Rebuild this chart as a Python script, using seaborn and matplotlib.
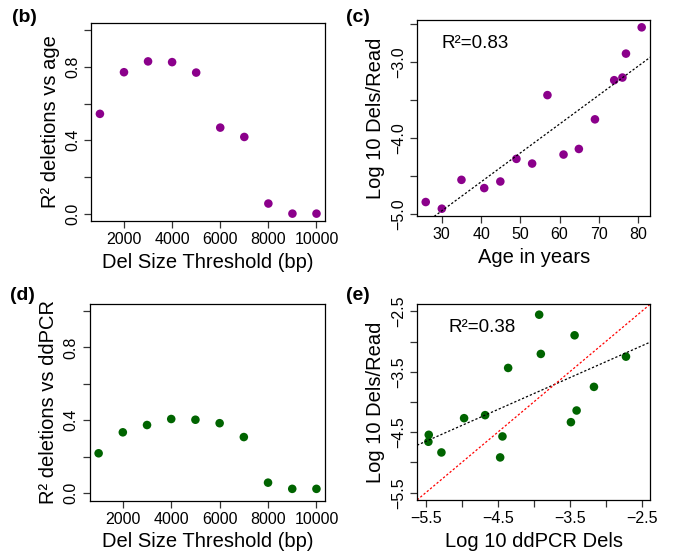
import numpy as np
import pandas as pd
import seaborn as sns
import matplotlib
matplotlib.use('Agg')
import matplotlib.pyplot as plt

# R^2 vs deletion size threshold
thresholds = [1000, 2000, 3000, 4000, 5000, 6000, 7000, 8000, 9000, 10000]
r2_age = [0.544, 0.771, 0.830, 0.826, 0.769, 0.469, 0.418, 0.055, 0.0, 0.0]
r2_ddpcr = [0.219, 0.334, 0.374, 0.407, 0.403, 0.384, 0.308, 0.058, 0.024, 0.024]

# deletions per read vs age
age = [25.9, 30.0, 35.0, 40.8, 44.9, 49.0, 53.0, 56.9, 61.0, 64.9, 69.0, 73.9, 76.0, 76.9, 80.9]
dels_age = [-4.846, -4.934, -4.553, -4.662, -4.575, -4.276, -4.338, -3.434, -4.219,
            -4.145, -3.754, -3.237, -3.202, -2.886, -2.539]

# deletions per read vs ddPCR
ddpcr = [-5.458, -5.463, -5.282, -4.967, -4.675, -4.434, -4.466, -4.355, -3.924,
         -3.901, -3.483, -3.432, -3.404, -3.163, -2.718]
dels_ddpcr = [-4.542, -4.657, -4.834, -4.267, -4.217, -4.569, -4.916, -3.436, -2.555,
              -3.204, -4.333, -2.896, -4.140, -3.749, -3.249]

r2_ticks = [0.0, 0.2, 0.4, 0.6, 0.8, 1.0]
r2_ticklabels = ['0.0', '', '0.4', '', '0.8', '']
thr_ticks = [2000, 4000, 6000, 8000, 10000]
age_ticks = [30, 40, 50, 60, 70, 80]
c_yticks = [-5.0, -4.5, -4.0, -3.5, -3.0, -2.5]
c_yticklabels = ['\u22125.0', '', '\u22124.0', '', '\u22123.0', '']
e_ticks = [-5.5, -5.0, -4.5, -4.0, -3.5, -3.0, -2.5]
e_ticklabels = ['\u22125.5', '', '\u22124.5', '', '\u22123.5', '', '\u22122.5']

purple = '#8b008b'
green = '#006400'

sns.set_style('ticks')
plt.rcParams['font.family'] = ['Liberation Sans', 'DejaVu Sans']
plt.rcParams['axes.unicode_minus'] = True
plt.rcParams['text.color'] = 'black'
plt.rcParams['axes.labelcolor'] = 'black'
plt.rcParams['xtick.labelcolor'] = 'black'
plt.rcParams['ytick.labelcolor'] = 'black'

fig = plt.figure(figsize=(6.76, 5.58), dpi=100)
ax_b = fig.add_axes([0.135, 0.604, 0.346, 0.355])
ax_c = fig.add_axes([0.617, 0.613, 0.345, 0.351])
ax_d = fig.add_axes([0.133, 0.103, 0.348, 0.353])
ax_e = fig.add_axes([0.617, 0.104, 0.345, 0.351])

tick_fs = 11.5
label_fs = 14.5


def style(ax):
    for s in ax.spines.values():
        s.set_color('black')
        s.set_linewidth(0.9)
    ax.tick_params(length=5, width=0.9, color='#333333', labelcolor='black',
                   labelsize=tick_fs, pad=3)
    plt.setp(ax.get_yticklabels(), rotation=90, va='center', ha='right')


def pad(lo, hi):
    d = (hi - lo) * 0.04
    return lo - d, hi + d


# (b)
df_b = pd.DataFrame({'thr': thresholds, 'r2': r2_age})
sns.scatterplot(data=df_b, x='thr', y='r2', ax=ax_b, color=purple, s=38, edgecolor='none')
ax_b.set_xlim(pad(1000, 10000))
ax_b.set_ylim(pad(0, 1))
ax_b.set_xticks(thr_ticks)
ax_b.set_yticks(r2_ticks)
ax_b.set_yticklabels(r2_ticklabels)
ax_b.set_xlabel('Del Size Threshold (bp)', fontsize=label_fs)
ax_b.set_ylabel('R\u00b2 deletions vs age', fontsize=label_fs)
style(ax_b)

# (d)
df_d = pd.DataFrame({'thr': thresholds, 'r2': r2_ddpcr})
sns.scatterplot(data=df_d, x='thr', y='r2', ax=ax_d, color=green, s=38, edgecolor='none')
ax_d.set_xlim(pad(1000, 10000))
ax_d.set_ylim(pad(0, 1))
ax_d.set_xticks(thr_ticks)
ax_d.set_yticks(r2_ticks)
ax_d.set_yticklabels(r2_ticklabels)
ax_d.set_xlabel('Del Size Threshold (bp)', fontsize=label_fs)
ax_d.set_ylabel('R\u00b2 deletions vs ddPCR', fontsize=label_fs)
style(ax_d)

# (c)
df_c = pd.DataFrame({'age': age, 'dels': dels_age})
ax_c.set_xlim(pad(min(age), max(age)))
ax_c.set_ylim(pad(min(dels_age), max(dels_age)))
sns.regplot(data=df_c, x='age', y='dels', ax=ax_c, ci=None, truncate=False,
            scatter_kws=dict(color=purple, s=38, edgecolor='none', alpha=1),
            line_kws=dict(color='black', lw=0.9, ls=(0, (1.8, 1.6))))
ax_c.set_xlim(pad(min(age), max(age)))
ax_c.set_ylim(pad(min(dels_age), max(dels_age)))
r_c = np.corrcoef(age, dels_age)[0, 1] ** 2
ax_c.text(30, -2.75, 'R\u00b2=%.2f' % r_c, fontsize=13.5, va='center', ha='left')
ax_c.set_xticks(age_ticks)
ax_c.set_yticks(c_yticks)
ax_c.set_yticklabels(c_yticklabels)
ax_c.set_xlabel('Age in years', fontsize=label_fs)
ax_c.set_ylabel('Log 10 Dels/Read', fontsize=label_fs)
style(ax_c)

# (e)
df_e = pd.DataFrame({'ddpcr': ddpcr, 'dels': dels_ddpcr})
ax_e.set_xlim(pad(-5.5, -2.5))
ax_e.set_ylim(pad(-5.5, -2.5))
sns.regplot(data=df_e, x='ddpcr', y='dels', ax=ax_e, ci=None, truncate=False,
            scatter_kws=dict(color=green, s=38, edgecolor='none', alpha=1),
            line_kws=dict(color='black', lw=0.9, ls=(0, (1.8, 1.6))))
ax_e.axline((-5.5, -5.5), slope=1, color='red', lw=0.9, ls=(0, (1.8, 1.6)))
ax_e.set_xlim(pad(-5.5, -2.5))
ax_e.set_ylim(pad(-5.5, -2.5))
r_e = np.corrcoef(ddpcr, dels_ddpcr)[0, 1] ** 2
ax_e.text(-5.19, -2.775, 'R\u00b2=%.2f' % r_e, fontsize=13.5, va='center', ha='left')
ax_e.set_xticks(e_ticks)
ax_e.set_xticklabels(e_ticklabels)
ax_e.set_yticks(e_ticks)
ax_e.set_yticklabels(e_ticklabels)
ax_e.set_xlabel('Log 10 ddPCR Dels', fontsize=label_fs)
ax_e.set_ylabel('Log 10 Dels/Read', fontsize=label_fs)
style(ax_e)

for lab, x, y in [('(b)', 0.018, 0.968), ('(c)', 0.512, 0.968),
                  ('(d)', 0.015, 0.47), ('(e)', 0.512, 0.47)]:
    fig.text(x, y, lab, fontsize=14, fontweight='bold', va='center', ha='left',
             color='black')

fig.savefig('out.png', dpi=100)
